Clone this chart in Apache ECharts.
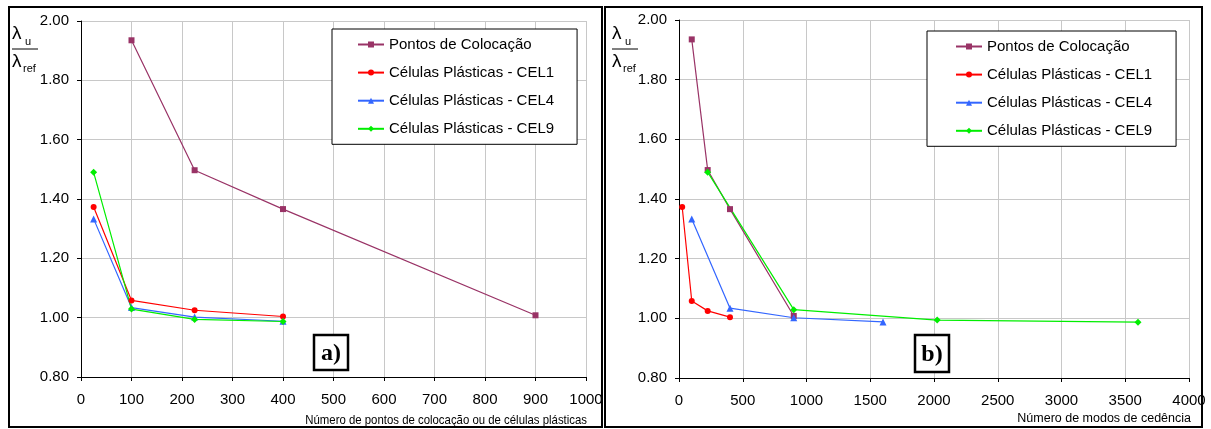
<!DOCTYPE html>
<html>
<head>
<meta charset="utf-8">
<script src="https://cdn.jsdelivr.net/npm/echarts@6/dist/echarts.min.js"></script>
<style>
html, body { margin: 0; padding: 0; background: #fff; }
#chart { width: 1211px; height: 429px; }
</style>
</head>
<body>
<div id="chart"></div>
<script>
var seriesNames = ['Pontos de Colocação', 'Células Plásticas - CEL1', 'Células Plásticas - CEL4', 'Células Plásticas - CEL9'];

// a) número de pontos de colocação ou de células plásticas
var xPontos = [100, 225, 400, 900];
var yPontos = [1.935, 1.497, 1.366, 1.008];
var xCel = [25, 100, 225, 400];
var yCel1 = [1.373, 1.058, 1.025, 1.004];
var yCel4 = [1.333, 1.034, 1.002, 0.988];
var yCel9 = [1.490, 1.029, 0.994, 0.987];

// b) número de modos de cedência
var xPontosB = [100, 225, 400, 900];
var xCel1B = [25, 100, 225, 400];
var xCel4B = [100, 400, 900, 1600];
var xCel9B = [225, 900, 2025, 3600];

var colors = ['#993366', '#ff0000', '#3366ff', '#00ee00'];
var symbols = ['rect', 'circle', 'triangle', 'diamond'];
var symbolSizes = [6, 6, 7, 7];

var chart = echarts.init(document.getElementById('chart'));
var FONT = '"Liberation Sans", Arial, sans-serif';

function zip(xs, ys) {
    return xs.map(function (x, i) { return [x, ys[i]]; });
}

function mkSeries(k, idx, xs, ys) {
    return {
        type: 'line',
        name: seriesNames[k],
        xAxisIndex: idx,
        yAxisIndex: idx,
        data: zip(xs, ys),
        symbol: symbols[k],
        symbolSize: symbolSizes[k],
        showAllSymbol: true,
        animation: false,
        lineStyle: { color: colors[k], width: 1.2 },
        itemStyle: { color: colors[k] }
    };
}

function xAxisCfg(idx, max, interval) {
    return {
        gridIndex: idx,
        type: 'value',
        min: 0,
        max: max,
        interval: interval,
        axisLine: { lineStyle: { color: '#000', width: 1 } },
        axisTick: { show: true, length: 4, lineStyle: { color: '#000' } },
        splitLine: { show: true, lineStyle: { color: '#c8c8c8', width: 1 } },
        axisLabel: {
            color: '#000', fontSize: 15, fontFamily: FONT, margin: 15,
            formatter: function (v) { return String(v); }
        }
    };
}

function yAxisCfg(idx) {
    return {
        gridIndex: idx,
        type: 'value',
        min: 0.8,
        max: 2.0,
        interval: 0.2,
        axisLine: { show: true, lineStyle: { color: '#000', width: 1 } },
        axisTick: { show: true, length: 4, lineStyle: { color: '#000' } },
        splitLine: { show: true, lineStyle: { color: '#c8c8c8', width: 1 } },
        axisLabel: {
            color: '#000', fontSize: 15, fontFamily: FONT, margin: 12,
            formatter: function (v) { return v.toFixed(2); }
        }
    };
}

function legendCfg(left, top, padding) {
    return {
        left: left,
        top: top,
        orient: 'vertical',
        padding: padding,
        itemGap: 13.1,
        itemWidth: 26,
        itemHeight: 7.5,
        borderColor: '#000',
        borderWidth: 1,
        backgroundColor: '#fff',
        selectedMode: false,
        textStyle: { fontSize: 15, fontFamily: FONT, color: '#000' },
        data: seriesNames
    };
}

// fração λu / λref
function fraction(dx) {
    return [
        { type: 'text', left: 12 + dx, top: 24, style: { text: 'λ', fontSize: 19, fontFamily: FONT, fill: '#000' } },
        { type: 'text', left: 25 + dx, top: 36, style: { text: 'u', fontSize: 11, fontFamily: FONT, fill: '#000' } },
        { type: 'line', shape: { x1: 12 + dx, y1: 49, x2: 38 + dx, y2: 49 }, style: { stroke: '#000', lineWidth: 1 } },
        { type: 'text', left: 12 + dx, top: 52, style: { text: 'λ', fontSize: 19, fontFamily: FONT, fill: '#000' } },
        { type: 'text', left: 23 + dx, top: 63, style: { text: 'ref', fontSize: 11, fontFamily: FONT, fill: '#000' } }
    ];
}

function tag(x, y, w, h, txt) {
    return [
        { type: 'rect', shape: { x: x, y: y, width: w, height: h }, style: { fill: '#fff', stroke: '#000', lineWidth: 2.5 }, z: 10 },
        { type: 'text', x: x + w / 2, y: y + h / 2 + 1, z: 11,
          style: { text: txt, fontSize: 24, fontWeight: 'bold', fontFamily: '"Liberation Serif", "Times New Roman", serif', fill: '#000', align: 'center', verticalAlign: 'middle' } }
    ];
}

var graphics = [
    { type: 'rect', shape: { x: 9, y: 7, width: 593, height: 420 }, style: { fill: 'none', stroke: '#000', lineWidth: 2 } },
    { type: 'rect', shape: { x: 605, y: 7, width: 597, height: 420 }, style: { fill: 'none', stroke: '#000', lineWidth: 2 } },
    { type: 'text', x: 587, y: 420, scaleX: 0.876,
      style: { text: 'Número de pontos de colocação ou de células plásticas', fontSize: 13, fontFamily: FONT, fill: '#000', align: 'right', verticalAlign: 'middle' } },
    { type: 'text', x: 1191, y: 419,
      style: { text: 'Número de modos de cedência', fontSize: 12.5, fontFamily: FONT, fill: '#000', align: 'right', verticalAlign: 'middle' } }
].concat(fraction(0), fraction(600), tag(314, 335, 34, 35, 'a)'), tag(915, 335, 34, 37, 'b)'));

chart.setOption({
    animation: false,
    backgroundColor: '#fff',
    grid: [
        { left: 81, top: 21, width: 505, height: 356 },
        { left: 679, top: 20, width: 510, height: 358 }
    ],
    xAxis: [xAxisCfg(0, 1000, 100), xAxisCfg(1, 4000, 500)],
    yAxis: [yAxisCfg(0), yAxisCfg(1)],
    legend: [
        legendCfg(332, 29, [8, 23, 8, 25]),
        legendCfg(927, 31, [8, 24, 8, 28])
    ],
    series: [
        mkSeries(0, 0, xPontos, yPontos),
        mkSeries(1, 0, xCel, yCel1),
        mkSeries(2, 0, xCel, yCel4),
        mkSeries(3, 0, xCel, yCel9),
        mkSeries(0, 1, xPontosB, yPontos),
        mkSeries(1, 1, xCel1B, yCel1),
        mkSeries(2, 1, xCel4B, yCel4),
        mkSeries(3, 1, xCel9B, yCel9)
    ],
    graphic: graphics
});
</script>
</body>
</html>
